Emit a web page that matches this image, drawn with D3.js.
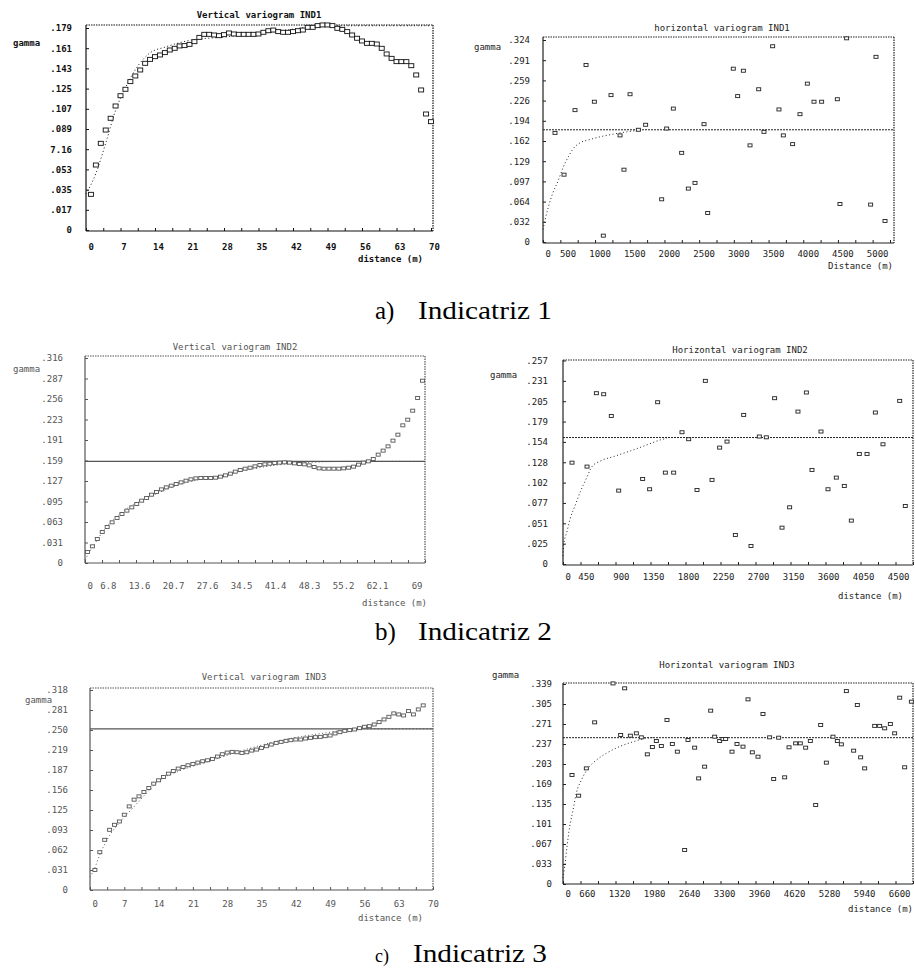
<!DOCTYPE html>
<html>
<head>
<meta charset="utf-8">
<script src="https://cdn.jsdelivr.net/npm/d3@7"></script>
<style>
  body { margin: 0; background: #fff; }
  svg { display: block; }
</style>
</head>
<body>
<svg id="canvas"></svg>
<script>
// ---- a) Indicatriz 1 ----
// vertical IND1
const v1Lag = [1,2,3,4,5,6,7,8,9,10,11,12,13,14,15,16,17,18,19,20,21,22,23,24,25,26,27,28,29,30,31,32,33,34,35,36,37,38,39,40,41,42,43,44,45,46,47,48,49,50,51,52,53,54,55,56,57,58,59,60,61,62,63,64,65,66,67,68,69,70]
const v1Gamma = [0.0316,0.0576,0.0768,0.0886,0.0990,0.1099,0.1190,0.1247,0.1315,0.1365,
  0.1418,0.1477,0.1512,0.1536,0.1551,0.1572,0.1595,0.1610,0.1631,0.1634,
  0.1645,0.1669,0.1707,0.1734,0.1734,0.1728,0.1722,0.1731,0.1746,0.1737,
  0.1734,0.1734,0.1734,0.1734,0.1737,0.1752,0.1766,0.1772,0.1758,0.1752,
  0.1752,0.1758,0.1766,0.1772,0.1796,0.1796,0.1811,0.1817,0.1817,0.1811,
  0.1787,0.1778,0.1758,0.1728,0.1699,0.1675,0.1654,0.1654,0.1648,0.1610,
  0.1560,0.1521,0.1492,0.1492,0.1492,0.1456,0.1374,0.1241,0.1028,0.0960]
const v1ModelLag = [0,2,4,6,8,10,13,16,21,28,35,42,48,70]
const v1ModelGamma = [0.032,0.050,0.077,0.106,0.126,0.142,0.157,0.162,0.168,0.171,0.174,0.178,0.181,0.181]
const v1YLabels = ['0','.017','.035','.053','7.16','.089','.107','.125','.143','.161','.179']
const v1XLabels = ['0','7','14','21','28','35','42','49','56','63','70']

// horizontal IND1
const h1Dist = [173,303,461,620,740,869,980,1110,1167,1254,1374,1479,1710,1782,1878,1998,2094,2190,2320,2373,2742,2805,2887,2983,3108,3184,3309,3400,3463,3597,3703,3809,3905,4015,4241,4279,4375,4721,4798,4928]
const h1Gamma = [0.175,0.108,0.2115,0.284,0.225,0.0102,0.2356,0.171,0.116,0.237,0.180,0.188,0.0685,0.182,0.214,0.143,0.0857,0.0948,0.189,0.0466,0.278,0.234,0.2747,0.155,0.245,0.1767,0.314,0.2126,0.171,0.157,0.205,0.254,0.225,0.225,0.229,0.061,0.3267,0.060,0.297,0.0337]
const h1ModelDist = [0,29,77,139,221,293,365,437,533,677,821,1013,1205,1398]
const h1ModelGamma = [0.020,0.035,0.056,0.078,0.099,0.1205,0.1366,0.150,0.159,0.1644,0.1687,0.173,0.1767,0.1794]
const h1Sill = 0.180
const h1YLabels = ['0','.032','.064','.097','.129','.162','.194','.226','.259','.291','.324']
const h1XLabels = ['0','500','1000','1500','2000','2500','3000','3500','4000','4500','5000']

// ---- b) Indicatriz 2 ----
// vertical IND2
const v2Lag = [0.5,1.5,2.5,3.5,4.5,5.5,6.5,7.5,8.5,9.5,10.5,11.5,12.5,13.5,14.5,15.5,16.5,17.5,18.5,19.5,20.5,21.5,22.5,23.5,24.5,25.5,26.5,27.5,28.5,29.5,30.5,31.5,32.5,33.5,34.5,35.5,36.5,37.5,38.5,39.5,40.5,41.5,42.5,43.5,44.5,45.5,46.5,47.5,48.5,49.5,50.5,51.5,52.5,53.5,54.5,55.5,56.5,57.5,58.5,59.5,60.5,61.5,62.5,63.5,64.5,65.5,66.5,67.5,68.5]
const v2Gamma = [0.0170,0.0257,0.0370,0.0478,0.0555,0.0627,0.0694,0.0755,0.0807,0.0858,
  0.0909,0.0961,0.1002,0.1053,0.1094,0.1135,0.1166,0.1192,0.1218,0.1243,
  0.1269,0.1290,0.1305,0.1310,0.1310,0.1310,0.1315,0.1331,0.1351,0.1377,
  0.1408,0.1434,0.1454,0.1469,0.1490,0.1511,0.1521,0.1531,0.1541,0.1547,
  0.1552,0.1547,0.1536,0.1526,0.1521,0.1505,0.1480,0.1459,0.1454,0.1454,
  0.1454,0.1454,0.1459,0.1469,0.1485,0.1516,0.1547,0.1567,0.1603,0.1670,
  0.1732,0.1798,0.1886,0.1978,0.2122,0.2209,0.2348,0.2543,0.2810]
const v2ModelLag = [0,2,4,7,10,14,18,22,27,32,38,45,55,69]
const v2ModelGamma = [0.005,0.030,0.052,0.075,0.091,0.105,0.118,0.127,0.133,0.142,0.150,0.155,0.1567,0.1567]
const v2Sill = 0.1567
const v2YLabels = ['0','.031','.063','.095','.127','.159','.191','.223','.256','.287','.316']
const v2XLabels = ['0','6.8','13.6','20.7','27.6','34.5','41.4','48.3','55.2','62.1','69']

// horizontal IND2
const h2Dist = [116,309,429,523,621,716,1024,1114,1217,1316,1423,1530,1616,1723,1830,1916,2014,2109,2216,2323,2417,2524,2614,2721,2816,2914,3021,3129,3201,3317,3407,3514,3617,3707,3810,3909,4016,4114,4329,4401]
const h2Gamma = [0.128,0.123,0.2157,0.2144,0.187,0.0927,0.1074,0.0944,0.2043,0.1154,0.1154,0.1664,0.1576,0.0935,0.2313,0.1062,0.147,0.1546,0.0367,0.1883,0.0227,0.161,0.160,0.2094,0.0459,0.0716,0.1925,0.2166,0.1188,0.1673,0.0944,0.1091,0.0986,0.0548,0.139,0.139,0.1913,0.1512,0.206,0.0733]
const h2ModelDist = [0,9,51,94,159,223,300,373,480,651,866,1080,1251,1337]
const h2ModelGamma = [0.010,0.024,0.041,0.0577,0.0746,0.0914,0.108,0.123,0.130,0.1357,0.1428,0.1504,0.1567,0.1588]
const h2Sill = 0.1597
const h2YLabels = ['0','.025','.051','.077','.102','.128','.154','.179','.205','.231','.257']
const h2XLabels = ['0','450','900','1350','1800','2250','2700','3150','3600','4050','4500']

// ---- c) Indicatriz 3 ----
// vertical IND3
const v3Lag = [1,2,3,4,5,6,7,8,9,10,11,12,13,14,15,16,17,18,19,20,21,22,23,24,25,26,27,28,29,30,31,32,33,34,35,36,37,38,39,40,41,42,43,44,45,46,47,48,49,50,51,52,53,54,55,56,57,58,59,60,61,62,63,64,65,66,67,68]
const v3Gamma = [0.0313,0.0590,0.0783,0.0939,0.1017,0.1069,0.1174,0.1304,0.1409,0.1461,
  0.1529,0.1591,0.1659,0.1711,0.1763,0.1815,0.1857,0.1894,0.1920,0.1946,
  0.1967,0.1988,0.2009,0.2024,0.2045,0.2082,0.2118,0.2144,0.2155,0.2149,
  0.2139,0.2149,0.2175,0.2191,0.2217,0.2243,0.2269,0.2295,0.2311,0.2327,
  0.2337,0.2348,0.2348,0.2363,0.2374,0.2384,0.2389,0.2400,0.2410,0.2442,
  0.2462,0.2483,0.2494,0.2504,0.2525,0.2546,0.2556,0.2582,0.2619,0.2661,
  0.2702,0.2755,0.2739,0.2723,0.2791,0.2739,0.2817,0.2880]
const v3ModelLag = [0,1,2,4,6,9,12,14,18,24,30,36,42,48,55,70]
const v3ModelGamma = [0.020,0.035,0.055,0.085,0.105,0.130,0.155,0.170,0.185,0.200,0.215,0.228,0.238,0.245,0.2515,0.2515]
const v3Sill = 0.2515
const v3YLabels = ['0','.031','.062','.093','.125','.156','.187','.219','.250','.281','.318']
const v3XLabels = ['0','7','14','21','28','35','42','49','56','63','70']

// horizontal IND3
const h3Dist = [170,295,440,597,943,1087,1163,1270,1383,1477,1590,1685,1760,1854,1961,2062,2156,2294,2357,2483,2558,2671,2785,2860,2954,3017,3067,3187,3281,3394,3489,3570,3677,3771,3897,3973,4067,4180,4262,4387,4475,4576,4664,4765,4859,4966,5091,5173,5249,5343,5481,5550,5613,5689,5877,5971,6066,6173,6254,6349,6443,6569]
const h3Gamma = [0.1848,0.1497,0.196,0.274,0.340,0.2526,0.3317,0.2514,0.2554,0.2486,0.2198,0.2322,0.2424,0.2339,0.278,0.2373,0.2243,0.0576,0.2441,0.2311,0.179,0.1989,0.2938,0.2497,0.2424,0.2458,0.2458,0.2243,0.2373,0.2328,0.313,0.2232,0.2158,0.2882,0.2486,0.178,0.248,0.1808,0.2317,0.2384,0.2384,0.2311,0.2424,0.1339,0.2695,0.2057,0.2497,0.2424,0.2367,0.327,0.226,0.3034,0.2147,0.196,0.268,0.268,0.2639,0.2712,0.2554,0.3158,0.1978,0.309]
const h3ModelDist = [0,31,75,126,189,251,346,471,629,817,1069,1320,1571,1697]
const h3ModelGamma = [0.010,0.029,0.063,0.097,0.125,0.154,0.176,0.196,0.210,0.2215,0.233,0.241,0.247,0.248]
const h3Sill = 0.248
const h3YLabels = ['0','.033','.067','.101','.135','.169','.203','.237','.271','.305','.339']
const h3XLabels = ['0','660','1320','1980','2640','3300','3960','4620','5280','5940','6600']

const captions = [
  { tag: 'a)', text: 'Indicatriz 1' },
  { tag: 'b)', text: 'Indicatriz 2' },
  { tag: 'c)', text: 'Indicatriz 3' }
]

let width = 915
let height = 972
let monoFont = '"DejaVu Sans Mono", "Liberation Mono", monospace'

let svg = d3.select('#canvas').attr('width', width).attr('height', height)

// layout of each little plot (positions only, values come from the arrays above)
let panels = [
  { title: 'Vertical variogram IND1', xName: 'distance (m)',
    lag: v1Lag, gamma: v1Gamma, mLag: v1ModelLag, mGamma: v1ModelGamma, sill: null,
    yLabels: v1YLabels, xLabels: v1XLabels, xMax: 70, yMax: 0.179,
    box: { l: 86, r: 433, t: 25, b: 231 }, xr: [86, 431], yr: [230, 28],
    yLabEnd: 72, xLabY: 250, xAnchor: 'middle', xDx: 3,
    titlePos: [259, 18], gammaPos: [13, 46], distPos: [423, 262],
    bold: true, ink: '#111', mark: [5, 4] },
  { title: 'horizontal variogram IND1', xName: 'Distance (m)',
    lag: h1Dist, gamma: h1Gamma, mLag: h1ModelDist, mGamma: h1ModelGamma, sill: h1Sill,
    yLabels: h1YLabels, xLabels: h1XLabels, xMax: 5000, yMax: 0.324,
    box: { l: 543, r: 894, t: 37, b: 243 }, xr: [543, 890], yr: [242, 40],
    yLabEnd: 530, xLabY: 257, xAnchor: 'end', xDx: -2,
    titlePos: [722, 31], gammaPos: [474, 50], distPos: [893, 269],
    bold: false, ink: '#222', mark: [4, 3] },
  { title: 'Vertical variogram IND2', xName: 'distance (m)',
    lag: v2Lag, gamma: v2Gamma, mLag: v2ModelLag, mGamma: v2ModelGamma, sill: v2Sill,
    yLabels: v2YLabels, xLabels: v2XLabels, xMax: 69, yMax: 0.316,
    box: { l: 85, r: 425, t: 356, b: 563 }, xr: [85, 425], yr: [563, 358],
    yLabEnd: 63, xLabY: 589, xAnchor: 'end', xDx: -3,
    titlePos: [235, 350], gammaPos: [13, 372], distPos: [427, 606],
    bold: false, ink: '#555', mark: [4, 3], solidSill: true },
  { title: 'Horizontal variogram IND2', xName: 'distance (m)',
    lag: h2Dist, gamma: h2Gamma, mLag: h2ModelDist, mGamma: h2ModelGamma, sill: h2Sill,
    yLabels: h2YLabels, xLabels: h2XLabels, xMax: 4500, yMax: 0.257,
    box: { l: 563, r: 913, t: 360, b: 565 }, xr: [563, 913], yr: [564, 360.5],
    yLabEnd: 548, xLabY: 580, xAnchor: 'end', xDx: -4,
    titlePos: [740, 353], gammaPos: [490, 378], distPos: [903, 599],
    bold: false, ink: '#222', mark: [4, 3] },
  { title: 'Vertical variogram IND3', xName: 'distance (m)',
    lag: v3Lag, gamma: v3Gamma, mLag: v3ModelLag, mGamma: v3ModelGamma, sill: v3Sill,
    yLabels: v3YLabels, xLabels: v3XLabels, xMax: 70, yMax: 0.312,
    box: { l: 90, r: 433, t: 688, b: 890 }, xr: [90, 433], yr: [890, 690],
    yLabEnd: 68, xLabY: 907, xAnchor: 'middle', xDx: 0,
    titlePos: [264, 680], gammaPos: [25, 703], distPos: [423, 921],
    bold: false, ink: '#555', mark: [4, 3], solidSill: true },
  { title: 'Horizontal variogram IND3', xName: 'distance (m)',
    lag: h3Dist, gamma: h3Gamma, mLag: h3ModelDist, mGamma: h3ModelGamma, sill: h3Sill,
    yLabels: h3YLabels, xLabels: h3XLabels, xMax: 6600, yMax: 0.339,
    box: { l: 563, r: 913, t: 683, b: 884 }, xr: [563, 913], yr: [884, 684],
    yLabEnd: 552, xLabY: 897, xAnchor: 'end', xDx: -3,
    titlePos: [727, 668], gammaPos: [492, 678], distPos: [913, 912],
    bold: false, ink: '#222', mark: [4, 3] }
]

let drawPanel = (p) => {
  let g = svg.append('g')
    .style('font-family', monoFont)
    .style('font-size', '9px')
    .style('font-weight', p.bold ? 'bold' : 'normal')

  let xScale = d3.scaleLinear().domain([0, p.xMax]).range(p.xr)
  let yScale = d3.scaleLinear().domain([0, p.yMax]).range(p.yr)
  let b = p.box

  // frame: solid left/bottom, dotted top/right like the old plotter output
  g.append('line').attr('x1', b.l).attr('x2', b.l).attr('y1', b.t).attr('y2', b.b)
    .attr('stroke', p.ink).attr('stroke-width', 1.2)
  g.append('line').attr('x1', b.l).attr('x2', b.r).attr('y1', b.b).attr('y2', b.b)
    .attr('stroke', p.ink).attr('stroke-width', 1.2)
  g.append('line').attr('x1', b.l).attr('x2', b.r).attr('y1', b.t).attr('y2', b.t)
    .attr('stroke', p.ink).attr('stroke-width', 1.2).attr('stroke-dasharray', '1.5,1')
  g.append('line').attr('x1', b.r).attr('x2', b.r).attr('y1', b.t).attr('y2', b.b)
    .attr('stroke', p.ink).attr('stroke-width', 1.2).attr('stroke-dasharray', '1.5,1')

  // y axis
  let yTicks = p.yLabels.map((d, i) => i * p.yMax / 10)
  let yAxis = d3.axisLeft(yScale)
    .tickValues(yTicks)
    .tickFormat((d, i) => p.yLabels[i])
    .tickSize(-3)
    .tickPadding(b.l - p.yLabEnd)
  let ya = g.append('g').attr('transform', 'translate(' + b.l + ',0)').call(yAxis)
  ya.select('.domain').remove()
  ya.selectAll('line').attr('stroke', p.ink)
  ya.selectAll('text').attr('fill', p.ink)
  ya.attr('font-family', null).attr('font-size', null)

  // x axis: labels + minor ticks
  let xTicks = p.xLabels.map((d, i) => i * p.xMax / 10)
  let xAxis = d3.axisBottom(xScale)
    .tickValues(xTicks)
    .tickFormat((d, i) => p.xLabels[i])
    .tickSize(0)
  let xa = g.append('g').attr('transform', 'translate(0,' + b.b + ')').call(xAxis)
  xa.select('.domain').remove()
  xa.attr('font-family', null).attr('font-size', null)
  xa.selectAll('text')
    .attr('fill', p.ink)
    .attr('y', p.xLabY - b.b)
    .attr('dy', 0)
    .attr('text-anchor', (d, i) => i === 0 ? 'start' : p.xAnchor)
    .attr('dx', (d, i) => i === 0 ? 2 : p.xDx)

  let minor = d3.axisBottom(xScale)
    .tickValues(d3.range(0, 21).map(i => i * p.xMax / 20))
    .tickFormat('')
    .tickSize(-3)
  let xm = g.append('g').attr('transform', 'translate(0,' + b.b + ')').call(minor)
  xm.select('.domain').remove()
  xm.selectAll('line').attr('stroke', p.ink)

  // sill line
  if (p.sill !== null) {
    g.append('line')
      .attr('x1', b.l).attr('x2', b.r)
      .attr('y1', yScale(p.sill)).attr('y2', yScale(p.sill))
      .attr('stroke', p.ink)
      .attr('stroke-width', p.solidSill ? 1.2 : 1)
      .attr('stroke-dasharray', p.solidSill ? null : '2,1')
  }

  // fitted model (dotted)
  let model = p.mLag.map((d, i) => [d, p.mGamma[i]])
  g.append('path')
    .datum(model)
    .attr('fill', 'none')
    .attr('stroke', p.ink)
    .attr('stroke-width', 1)
    .attr('stroke-dasharray', '1,2.5')
    .attr('d', d3.line()
      .x(d => xScale(d[0]))
      .y(d => yScale(d[1]))
      .curve(d3.curveMonotoneX))

  // experimental variogram points
  let pts = p.lag.map((d, i) => ({ x: d, y: p.gamma[i] }))
  g.selectAll('rect.pt')
    .data(pts)
    .enter()
    .append('rect')
    .attr('class', 'pt')
    .attr('x', d => xScale(d.x) - p.mark[0] / 2)
    .attr('y', d => yScale(d.y) - p.mark[1] / 2)
    .attr('width', p.mark[0])
    .attr('height', p.mark[1])
    .attr('fill', '#fff')
    .attr('stroke', p.ink)
    .attr('stroke-width', 0.9)

  // texts
  g.append('text').attr('x', p.titlePos[0]).attr('y', p.titlePos[1])
    .attr('text-anchor', 'middle').attr('fill', p.ink).text(p.title)
  g.append('text').attr('x', p.gammaPos[0]).attr('y', p.gammaPos[1])
    .attr('fill', p.ink).text('gamma')
  g.append('text').attr('x', p.distPos[0]).attr('y', p.distPos[1])
    .attr('text-anchor', 'end').attr('fill', p.ink).text(p.xName)
}

panels.forEach(drawPanel)

// captions under each row
let capY = [319, 640, 962]
captions.forEach((c, i) => {
  let t = svg.append('g')
    .style('font-family', '"Liberation Serif", "Times New Roman", serif')
    .attr('fill', '#000')
  t.append('text')
    .attr('x', 375).attr('y', capY[i])
    .style('font-size', i === 2 ? '18px' : '25px')
    .text(c.tag)
  t.append('text')
    .attr('x', i === 2 ? 413 : 418).attr('y', capY[i])
    .style('font-size', '25px')
    .attr('textLength', 134)
    .attr('lengthAdjust', 'spacingAndGlyphs')
    .text(c.text)
})
</script>
</body>
</html>
